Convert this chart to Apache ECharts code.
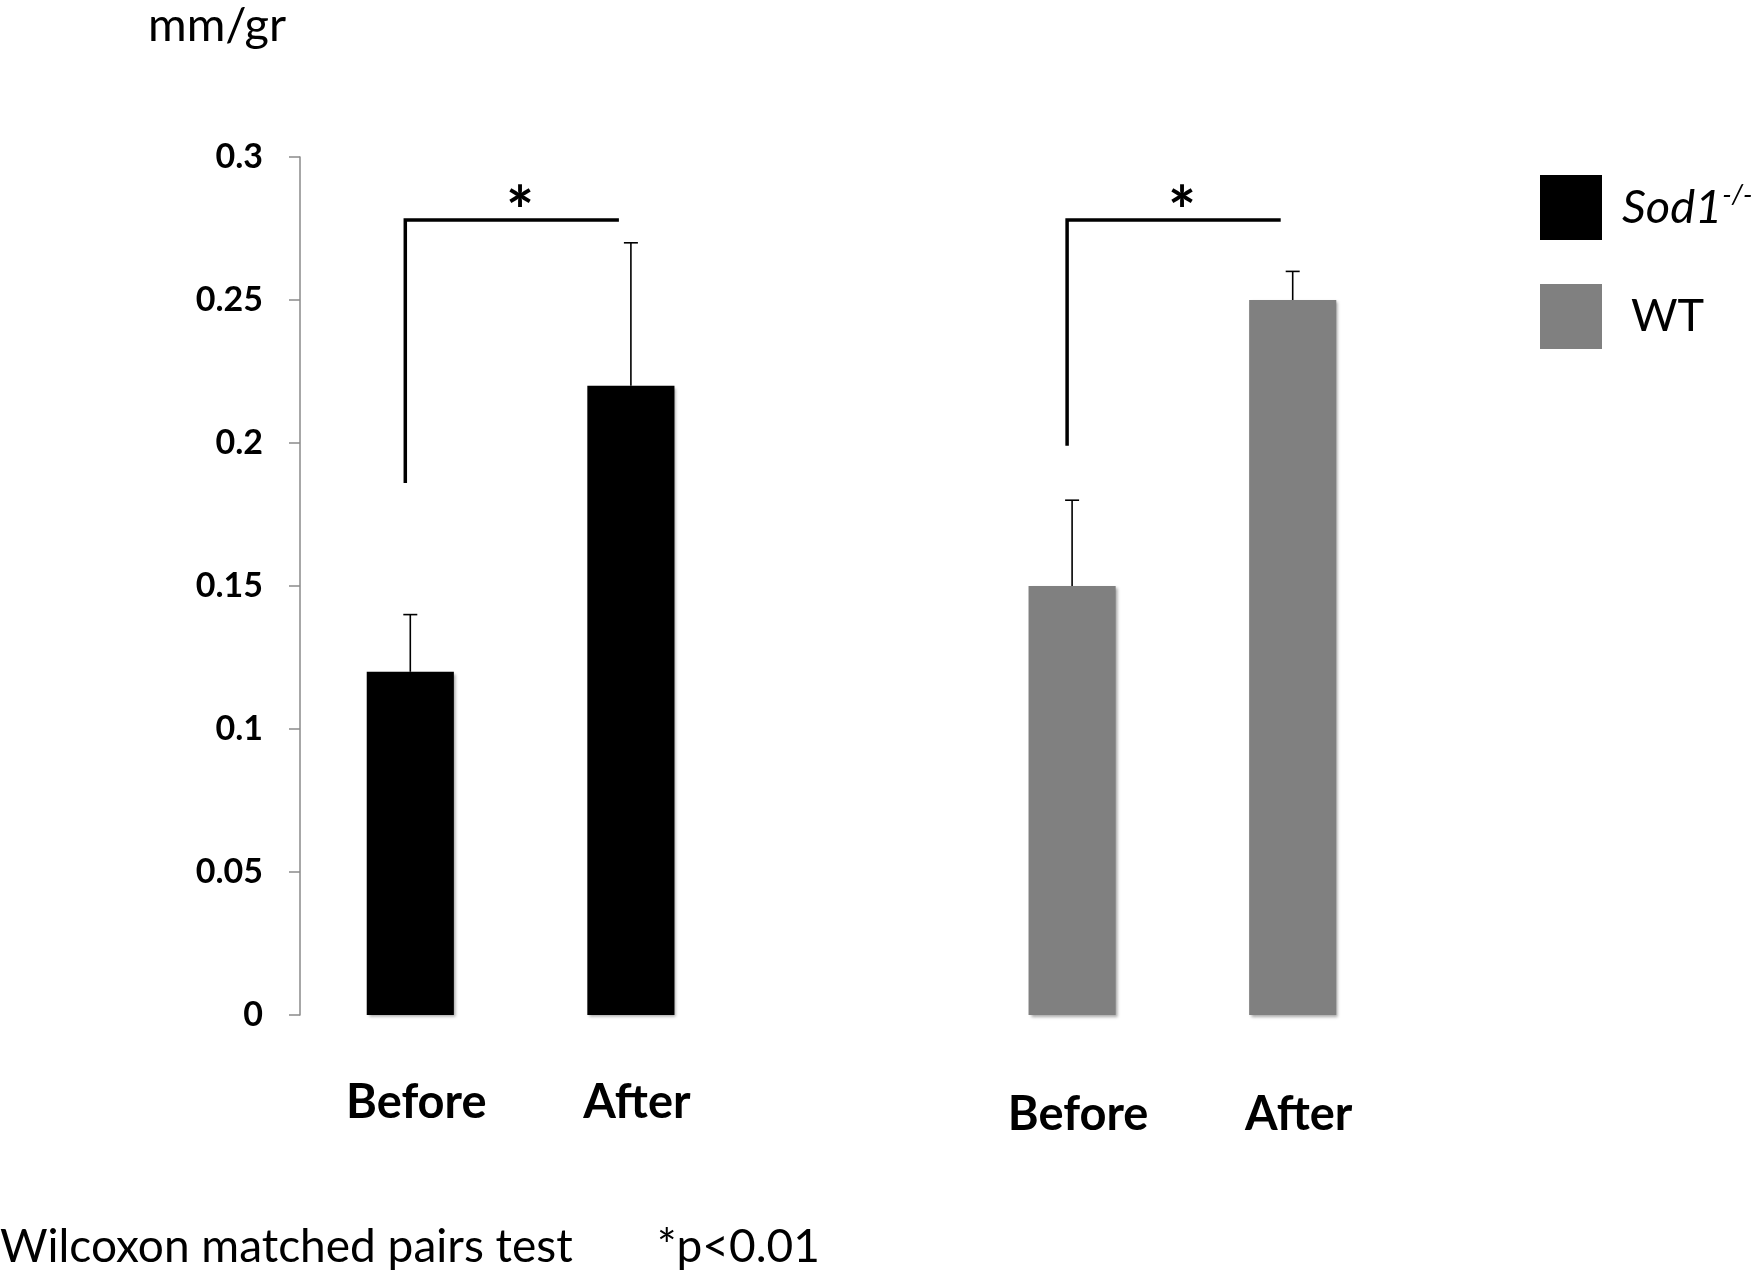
<!DOCTYPE html>
<html>
<head>
<meta charset="utf-8">
<script src="https://cdn.jsdelivr.net/npm/echarts@6/dist/echarts.min.js"></script>
<style>html,body{margin:0;padding:0;background:#fff}#c{width:1755px;height:1274px}</style>
</head>
<body>
<div id="c"></div>
<script>
// ---- data ----
const categories = ['Before', 'After', '', 'Before', 'After'];
const sodValues = [0.12, 0.22, null, null, null];
const sodErrors = [0.02, 0.05, null, null, null];
const wtValues = [null, null, null, 0.15, 0.25];
const wtErrors = [null, null, null, 0.03, 0.01];
const yTicks = { min: 0, max: 0.3, interval: 0.05 };
// significance brackets: [startCategory, endCategory, lowerValue, upperValue]
const brackets = [[0, 1, 0.186, 0.278], [3, 4, 0.199, 0.278]];
const yLabel = 'mm/gr';
const footLeft = 'Wilcoxon matched pairs test';
const footRight = '*p<0.01';

const FONT = 'Lato';

function errData(vals, errs) {
  const out = [];
  vals.forEach((v, i) => { if (v != null) out.push([i, v, v + errs[i]]); });
  return out;
}

const chart = echarts.init(document.getElementById('c'), null, { renderer: 'canvas' });

const barShadow = { shadowColor: 'rgba(0,0,0,0.35)', shadowBlur: 3, shadowOffsetX: 2, shadowOffsetY: 2 };

function errRender(params, api) {
  const x = api.value(0);
  const lo = api.coord([x, api.value(1)]);
  const hi = api.coord([x, api.value(2)]);
  const cap = 7;
  return {
    type: 'group',
    children: [
      { type: 'line', shape: { x1: lo[0], y1: lo[1], x2: hi[0], y2: hi[1] }, style: { stroke: '#000', lineWidth: 1.6 } },
      { type: 'line', shape: { x1: hi[0] - cap, y1: hi[1], x2: hi[0] + cap, y2: hi[1] }, style: { stroke: '#000', lineWidth: 1.6 } }
    ]
  };
}

function bracketRender(params, api) {
  const a = api.coord([api.value(0), api.value(2)]);
  const b = api.coord([api.value(0), api.value(3)]);
  const c = api.coord([api.value(1), api.value(3)]);
  const x1 = a[0] - 5, x2 = c[0] - 12;
  return {
    type: 'group',
    children: [
      { type: 'polyline', shape: { points: [[x1, a[1]], [x1, b[1]], [x2, c[1]]] },
        style: { stroke: '#000', lineWidth: 3.5, fill: null, lineJoin: 'miter' } },
      { type: 'text', style: { text: '*', x: (x1 + x2) / 2 + 8, y: b[1] - 6, align: 'center', verticalAlign: 'middle',
        font: 'bold 66px ' + FONT, fill: '#000' } }
    ]
  };
}

chart.setOption({
  animation: false,
  backgroundColor: '#fff',
  title: {
    text: yLabel, left: 143, top: -3,
    textStyle: { fontFamily: FONT, fontSize: 47, fontWeight: 'normal', color: '#000' }
  },
  legend: {
    orient: 'vertical', left: 1535, top: 170,
    itemWidth: 62, itemHeight: 65, itemGap: 44,
    icon: 'rect',
    data: ['Sod1', 'WT'],
    formatter: function (name) {
      return name === 'Sod1' ? '{i|Sod1}{s|-/-}' : '{w|WT}';
    },
    textStyle: {
      fontFamily: FONT, color: '#000',
      rich: {
        i: { fontFamily: FONT, fontStyle: 'italic', fontSize: 47, padding: [0, 0, 0, 15], lineHeight: 52 },
        s: { fontFamily: FONT, fontStyle: 'italic', fontSize: 27, verticalAlign: 'top', lineHeight: 52 },
        w: { fontFamily: FONT, fontSize: 45, padding: [0, 0, 0, 24], lineHeight: 52 }
      }
    }
  },
  grid: { left: 300, top: 157, width: 1103, height: 858 },
  xAxis: {
    type: 'category',
    data: categories,
    axisLine: { show: false },
    axisTick: { show: false },
    axisLabel: {
      margin: 64, interval: 0,
      formatter: function (v, i) { return i < 2 ? '{a|' + v + '}' : '{b|' + v + '}'; },
      rich: {
        a: { fontFamily: FONT, fontSize: 47, fontWeight: 'bold', color: '#000', padding: [0, 0, 0, 12] },
        b: { fontFamily: FONT, fontSize: 47, fontWeight: 'bold', color: '#000', padding: [12, 0, 0, 12] }
      }
    }
  },
  yAxis: {
    type: 'value',
    min: yTicks.min, max: yTicks.max, interval: yTicks.interval,
    axisLine: { show: true, lineStyle: { color: '#8a8a8a', width: 1.5 } },
    axisTick: { show: true, length: 11, lineStyle: { color: '#8a8a8a', width: 1.5 } },
    splitLine: { show: false },
    axisLabel: { margin: 37, fontFamily: FONT, fontSize: 34, fontWeight: 'bold', color: '#000' }
  },
  series: [
    { name: 'Sod1', type: 'bar', stack: 'g', barWidth: '39.5%', data: sodValues,
      itemStyle: Object.assign({ color: '#000000' }, barShadow) },
    { name: 'WT', type: 'bar', stack: 'g', barWidth: '39.5%', data: wtValues,
      itemStyle: Object.assign({ color: '#808080' }, barShadow) },
    { name: 'errSod', type: 'custom', renderItem: errRender, data: errData(sodValues, sodErrors), z: 5, silent: true },
    { name: 'errWT', type: 'custom', renderItem: errRender, data: errData(wtValues, wtErrors), z: 5, silent: true },
    { name: 'brackets', type: 'custom', renderItem: bracketRender, data: brackets, z: 6, silent: true }
  ],
  graphic: [
    { type: 'text', left: 0, top: 1224, style: { text: footLeft, font: '46px ' + FONT, fill: '#000' } },
    { type: 'text', left: 657, top: 1224, style: { text: footRight, font: '46px ' + FONT, fill: '#000' } }
  ]
});
</script>
</body>
</html>
